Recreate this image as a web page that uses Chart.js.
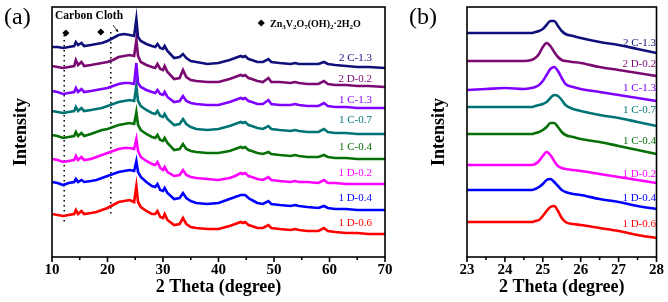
<!DOCTYPE html>
<html lang="en">
<head>
<meta charset="UTF-8">
<title>XRD patterns</title>
<script src="https://cdn.jsdelivr.net/npm/chart.js"></script>
<style>
    body { margin: 0; background: #fff; }
    #wrap { position: relative; width: 668px; height: 302px; overflow: hidden; font-family: "Liberation Serif", "Times New Roman", serif; }
    #boxA { position: absolute; left: 0; top: 0; width: 400px; height: 302px; }
    #boxB { position: absolute; left: 400px; top: 0; width: 268px; height: 302px; }
    .lbl { position: absolute; font-size: 11px; line-height: 12px; white-space: nowrap; transform: translateY(-50%); text-align: right; }
    .panel { position: absolute; font-size: 24px; line-height: 26px; }
    .note { position: absolute; font-weight: bold; white-space: nowrap; transform: translateY(-50%); }
    sub { font-size: 70%; vertical-align: -2px; line-height: 0; }
</style>
</head>
<body>
<div id="wrap">
    <div id="boxA"><canvas id="chartA" width="400" height="302"></canvas></div>
    <div id="boxB"><canvas id="chartB" width="268" height="302"></canvas></div>
    <div class="panel" style="left:4px; top:3px;">(a)</div>
    <div class="panel" style="left:409px; top:3px;">(b)</div>
    <div class="note" style="left:55px; top:15px; font-size:11.5px;">Carbon Cloth</div>
    <div class="note" style="left:270px; top:23px; font-size:10px;">Zn<sub>3</sub>V<sub>2</sub>O<sub>7</sub>(OH)<sub>2</sub>·2H<sub>2</sub>O</div>
    <div id="labels"></div>
</div>

<script>
    // sample names, top trace first
    const seriesNames = ['2 C-1.3', '2 D-0.2', '1 C-1.3', '1 C-0.7', '1 C-0.4', '1 D-0.2', '1 D-0.4', '1 D-0.6'];
    const lineColors = ['#10107a', '#7a0a72', '#8000ff', '#007474', '#077007', '#ff00ff', '#0000ff', '#ff0000'];

    // (a) full pattern, 2 theta 10-70
    const thetaA = [10, 11, 12, 13, 14, 14.3, 14.7, 15.3, 15.8, 17, 18, 19, 20, 21, 22, 23, 24, 24.8, 25.2, 25.5, 26, 27, 28, 28.6, 29, 29.5, 30, 30.3, 30.8, 32, 33, 33.6, 34.2, 35, 36, 38, 40, 42, 43, 44, 44.4, 44.8, 45.4, 46, 47, 48, 49, 49.5, 51, 53, 53.8, 54.5, 56, 58, 59, 59.7, 61, 63, 65, 67, 70];
    const a2C13 = [210, 210, 209, 210, 211, 215, 212, 214, 211, 212, 213, 214, 216, 219, 222, 223, 222, 221, 238, 220, 216, 213, 211, 210, 213, 209, 208, 211, 206, 199, 200, 203, 199, 196, 195, 193, 194, 197, 199, 201, 200, 201, 198, 197, 195, 195, 198, 195, 194, 193, 194, 193, 193, 193, 195, 193, 192, 191, 190, 190, 189];
    const a2D02 = [191, 190, 189, 190, 191, 197, 192, 195, 191, 192, 193, 194, 195, 197, 200, 201, 202, 201, 217, 201, 195, 192, 190, 189, 193, 188, 187, 191, 185, 178, 179, 187, 180, 177, 176, 175, 175, 178, 180, 182, 181, 182, 179, 178, 176, 175, 179, 175, 175, 174, 175, 174, 173, 173, 176, 173, 172, 172, 171, 171, 170];
    const a1C13 = [166, 165, 163, 164, 165, 169, 165, 168, 165, 166, 167, 168, 169, 171, 173, 174, 174, 173, 194, 174, 170, 167, 165, 164, 167, 163, 162, 165, 160, 155, 156, 161, 156, 154, 153, 152, 152, 155, 157, 159, 158, 159, 156, 155, 153, 153, 157, 153, 152, 152, 153, 152, 151, 151, 154, 151, 150, 150, 149, 149, 149];
    const a1C07 = [146, 145, 144, 145, 146, 150, 146, 149, 146, 147, 148, 149, 151, 153, 155, 156, 157, 156, 171, 156, 151, 147, 144, 143, 146, 141, 140, 143, 138, 132, 133, 138, 133, 130, 128, 127, 128, 131, 133, 135, 134, 135, 132, 131, 129, 128, 131, 128, 127, 126, 127, 126, 125, 125, 128, 125, 124, 124, 123, 123, 123];
    const a1C04 = [122, 121, 119, 120, 121, 125, 121, 124, 121, 123, 125, 127, 128, 130, 132, 133, 134, 133, 145, 132, 127, 123, 120, 119, 122, 117, 116, 119, 114, 107, 108, 113, 108, 106, 105, 104, 104, 106, 108, 110, 109, 110, 107, 106, 104, 103, 105, 103, 102, 101, 102, 101, 100, 100, 102, 100, 99, 99, 98, 98, 98];
    const a1D02 = [98, 97, 95, 96, 97, 101, 97, 100, 97, 98, 100, 102, 104, 106, 108, 109, 109, 108, 118, 106, 100, 96, 93, 92, 95, 89, 87, 90, 85, 81, 82, 87, 82, 80, 79, 78, 77, 79, 81, 84, 83, 84, 81, 80, 78, 77, 80, 77, 76, 75, 76, 75, 75, 74, 77, 74, 74, 73, 73, 73, 73];
    const a1D04 = [75, 74, 72, 74, 75, 78, 75, 77, 75, 76, 77, 79, 81, 83, 85, 86, 87, 86, 96, 85, 80, 75, 71, 70, 73, 67, 66, 69, 64, 58, 59, 64, 59, 56, 54, 53, 54, 58, 60, 62, 62, 62, 59, 57, 54, 53, 56, 53, 52, 51, 52, 51, 50, 49, 51, 49, 48, 48, 47, 47, 47];
    const a1D06 = [43, 42, 41, 42, 43, 47, 43, 46, 43, 44, 45, 47, 49, 52, 55, 56, 57, 55, 71, 55, 50, 46, 43, 43, 46, 40, 39, 43, 37, 32, 33, 39, 33, 30, 29, 28, 28, 31, 33, 35, 34, 35, 32, 31, 29, 29, 32, 29, 28, 27, 28, 27, 26, 26, 29, 26, 25, 24, 24, 23, 23];

    // (b) zoom on the 25 degree peak
    const thetaB = [23, 23.5, 24, 24.5, 24.7, 24.8, 24.9, 25.0, 25.1, 25.2, 25.3, 25.4, 25.5, 25.6, 25.8, 26, 26.5, 27, 27.5, 28];
    const b2C13 = [224, 224, 224, 224, 224, 225, 226, 228, 232, 236, 236, 231, 226, 223, 221, 219, 215, 212, 208, 204];
    const b2D02 = [196, 196, 196, 196, 197, 199, 203, 210, 214, 211, 205, 200, 197, 196, 195, 194, 190, 187, 184, 181];
    const b1C13 = [167, 168, 169, 168, 169, 170, 172, 176, 182, 188, 190, 186, 179, 173, 170, 168, 165, 162, 159, 156];
    const b1C07 = [150, 150, 150, 150, 150, 151, 152, 153, 155, 159, 162, 161, 157, 152, 148, 146, 142, 139, 135, 131];
    const b1C04 = [123, 123, 123, 123, 123, 124, 125, 127, 130, 134, 134, 130, 125, 122, 120, 118, 115, 111, 107, 103];
    const b1D02 = [92, 92, 92, 92, 92, 93, 96, 101, 105, 102, 96, 91, 89, 88, 87, 86, 83, 80, 77, 74];
    const b1D04 = [67, 67, 67, 67, 67, 68, 70, 73, 77, 78, 75, 71, 67, 65, 63, 62, 58, 55, 51, 48];
    const b1D06 = [35, 35, 35, 35, 35, 36, 37, 41, 46, 50, 51, 46, 39, 35, 33, 32, 29, 26, 22, 19];

    // Zn3V2O7(OH)2.2H2O reflections marked in (a), plus the legend symbol
    const phaseMarks = [{ x: 12.5, y: 224 }, { x: 18.8, y: 225 }, { x: 47.7, y: 234 }];
    const dottedLines = [{ x: 12.2, from: 32, to: 222 }, { x: 20.6, from: 40, to: 225 }];
    const clothArrow = { x0: 21.0, y0: 232, x1: 21.9, y1: 225 };

    const seriesA = [a2C13, a2D02, a1C13, a1C07, a1C04, a1D02, a1D04, a1D06];
    const seriesB = [b2C13, b2D02, b1C13, b1C07, b1C04, b1D02, b1D04, b1D06];

    // label y centres (page px) for the series names
    const labelTopA = [57, 78, 99, 119, 146, 172, 197, 222];
    const labelTopB = [42, 63, 87, 109, 140, 173, 197, 223];

    const fontFam = '"Liberation Serif", "Times New Roman", serif';

    let labelHtml = '';
    for (let i = 0; i < seriesNames.length; i++) {
        labelHtml += `<div class="lbl" style="right:296px; top:${labelTopA[i]}px; color:${lineColors[i]}">${seriesNames[i]}</div>`;
        labelHtml += `<div class="lbl" style="right:12px; top:${labelTopB[i]}px; color:${lineColors[i]}">${seriesNames[i]}</div>`;
    }
    document.getElementById('labels').innerHTML = labelHtml;

    // box round the plot area and outward ticks on the bottom axis
    const framePlugin = {
        id: 'frame',
        afterDatasetsDraw(chart, args, opts) {
            const ctx = chart.ctx;
            const a = chart.chartArea;
            const x = chart.scales.x;
            ctx.save();
            ctx.strokeStyle = '#000';
            ctx.lineWidth = 1.6;
            ctx.strokeRect(a.left, a.top, a.right - a.left, a.bottom - a.top);
            const n = Math.round((x.max - x.min) / opts.minor);
            for (let k = 0; k <= n; k++) {
                const v = x.min + k * opts.minor;
                const px = x.getPixelForValue(v);
                const major = Math.abs(v / opts.major - Math.round(v / opts.major)) < 1e-6;
                ctx.beginPath();
                ctx.moveTo(px, a.bottom);
                ctx.lineTo(px, a.bottom + (major ? 5 : 3));
                ctx.stroke();
            }
            ctx.restore();
        }
    };

    // dotted guide lines and the carbon cloth arrow in (a)
    const guidePlugin = {
        id: 'guides',
        beforeDatasetsDraw(chart) {
            const ctx = chart.ctx;
            const x = chart.scales.x, y = chart.scales.y;
            ctx.save();
            ctx.strokeStyle = '#000';
            ctx.lineWidth = 1.5;
            ctx.setLineDash([1.5, 3.5]);
            dottedLines.forEach(function (d) {
                const px = x.getPixelForValue(d.x);
                ctx.beginPath();
                ctx.moveTo(px, y.getPixelForValue(d.to));
                ctx.lineTo(px, y.getPixelForValue(d.from));
                ctx.stroke();
            });
            ctx.setLineDash([]);
            ctx.lineWidth = 0.8;
            const x0 = x.getPixelForValue(clothArrow.x0), y0 = y.getPixelForValue(clothArrow.y0);
            const x1 = x.getPixelForValue(clothArrow.x1), y1 = y.getPixelForValue(clothArrow.y1);
            ctx.beginPath();
            ctx.moveTo(x0, y0);
            ctx.lineTo(x1, y1);
            ctx.stroke();
            const ang = Math.atan2(y1 - y0, x1 - x0);
            ctx.beginPath();
            ctx.moveTo(x1, y1);
            ctx.lineTo(x1 - 3 * Math.cos(ang - 0.5), y1 - 3 * Math.sin(ang - 0.5));
            ctx.lineTo(x1 - 3 * Math.cos(ang + 0.5), y1 - 3 * Math.sin(ang + 0.5));
            ctx.closePath();
            ctx.fillStyle = '#000';
            ctx.fill();
            ctx.restore();
        }
    };

    function makeDatasets(theta, series, smooth) {
        return series.map(function (vals, i) {
            return {
                label: seriesNames[i],
                data: theta.map(function (t, j) { return { x: t, y: vals[j] }; }),
                borderColor: lineColors[i],
                borderWidth: 2.6,
                pointRadius: 0,
                fill: false,
                tension: smooth ? 0.3 : 0,
                cubicInterpolationMode: smooth ? 'monotone' : 'default'
            };
        });
    }

    function makeOptions(xmin, xmax, step, yWidth, padRight, yTitlePad) {
        return {
            responsive: false,
            animation: false,
            devicePixelRatio: 1,
            layout: { padding: { left: 0, right: padRight, top: 7, bottom: 0 } },
            plugins: {
                legend: { display: false },
                tooltip: { enabled: false },
                frame: { minor: step / 2, major: step }
            },
            scales: {
                x: {
                    type: 'linear',
                    min: xmin,
                    max: xmax,
                    afterFit: function (s) { s.height = 45; },
                    grid: { display: false, drawTicks: false, tickLength: 0 },
                    border: { display: false },
                    ticks: {
                        stepSize: step,
                        padding: 4,
                        color: '#000',
                        font: { family: fontFam, size: 15, weight: 'bold' }
                    },
                    title: {
                        display: true,
                        text: '2 Theta (degree)',
                        color: '#000',
                        font: { family: fontFam, size: 18, weight: 'bold' },
                        padding: { top: 0, bottom: 4 }
                    }
                },
                y: {
                    min: 0,
                    max: 250,
                    afterFit: function (s) { s.width = yWidth; },
                    grid: { display: false, drawTicks: false },
                    border: { display: false },
                    ticks: { display: false },
                    title: {
                        display: true,
                        text: 'Intensity',
                        color: '#000',
                        font: { family: fontFam, size: 18, weight: 'bold' },
                        padding: { top: yTitlePad, bottom: 0 }
                    }
                }
            }
        };
    }

    const dataA = makeDatasets(thetaA, seriesA, false);
    dataA.push({
        label: 'marks',
        data: phaseMarks,
        showLine: false,
        pointStyle: 'rectRot',
        pointRadius: 3.6,
        backgroundColor: '#000',
        borderColor: '#000',
        borderWidth: 0
    });

    new Chart(document.getElementById('chartA'), {
        type: 'line',
        data: { datasets: dataA },
        options: makeOptions(10, 70, 10, 52, 15, 11),
        plugins: [framePlugin, guidePlugin]
    });

    new Chart(document.getElementById('chartB'), {
        type: 'line',
        data: { datasets: makeDatasets(thetaB, seriesB, true) },
        options: makeOptions(23, 28, 1, 67, 10, 29),
        plugins: [framePlugin]
    });
</script>
</body>
</html>
